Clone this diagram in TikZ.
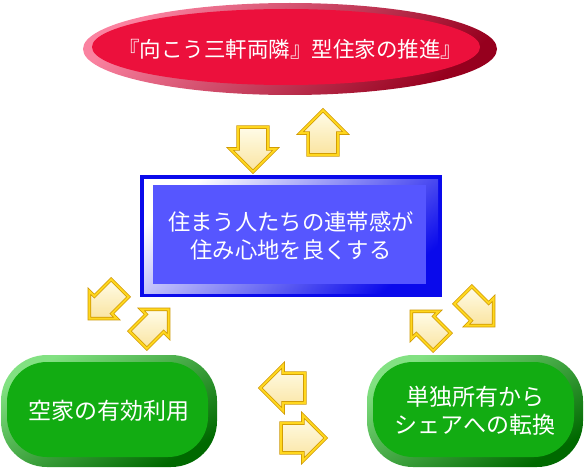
\documentclass[tikz,border=0pt]{standalone}
\usepackage{fontspec}
\newfontfamily\jpfont{Noto Sans CJK JP}
\usetikzlibrary{shapes.geometric, shapes.arrows, positioning}

\definecolor{rimpink}{RGB}{250,130,160}
\definecolor{rimdark}{RGB}{150,0,30}
\definecolor{crimson}{RGB}{236,16,60}
\definecolor{boxblue}{RGB}{10,10,235}
\definecolor{boxinner}{RGB}{86,86,255}
\definecolor{pillgreen}{RGB}{18,172,18}
\definecolor{pilllight}{RGB}{130,225,130}
\definecolor{pilldark}{RGB}{0,105,0}
\definecolor{goldedge}{RGB}{205,150,0}
\definecolor{goldline}{RGB}{255,215,30}
\definecolor{creamhi}{RGB}{255,252,232}
\definecolor{creamlo}{RGB}{250,228,160}

\begin{document}
\begin{tikzpicture}[
    x=1pt, y=-1pt,
    goal/.style={
        ellipse,
        minimum width=414pt,
        minimum height=92pt,
        inner xsep=-40pt,
        inner ysep=0pt,
        top color=rimpink,
        bottom color=rimdark,
        shading angle=40,
        text=white,
        font=\jpfont\fontsize{21.5pt}{24pt}\selectfont,
        path picture={
            \fill[crimson] ([xshift=-4pt,yshift=2pt]path picture bounding box.center)
                ellipse [x radius=194, y radius=38];
        }
    },
    hub/.style={
        rectangle,
        minimum width=302pt,
        minimum height=122pt,
        inner sep=0pt,
        fill=boxblue,
        align=center,
        text=white,
        font=\jpfont\fontsize{22.3pt}{28pt}\selectfont,
        path picture={
            \shade[top color=white, bottom color=boxblue, shading angle=40]
                ([shift={(4,4)}]path picture bounding box.north west)
                rectangle ([shift={(-4,-4)}]path picture bounding box.south east);
            \fill[boxinner]
                ([shift={(13,10)}]path picture bounding box.north west)
                rectangle ([shift={(-16,-13)}]path picture bounding box.south east);
        }
    },
    pill/.style={
        rectangle,
        rounded corners=46pt,
        minimum width=216pt,
        minimum height=112pt,
        inner sep=0pt,
        top color=pilllight,
        bottom color=pilldark,
        shading angle=30,
        align=center,
        text=white,
        font=\jpfont\fontsize{23pt}{28pt}\selectfont,
        path picture={
            \fill[pillgreen, rounded corners=40pt]
                ([shift={(6,7)}]path picture bounding box.north west)
                rectangle ([shift={(-9,-10)}]path picture bounding box.south east);
        }
    },
    flow/.style={
        single arrow,
        minimum height=44pt,
        inner sep=14.5pt,
        single arrow head extend=8pt,
        draw=goldedge,
        double=goldline,
        double distance=2pt,
        line width=0.7pt,
        top color=creamhi,
        bottom color=creamlo
    },
    slant/.style={
        flow,
        minimum height=43pt,
        inner sep=12pt,
        single arrow head extend=7pt
    }
]
\useasboundingbox (0,0) rectangle (585,468);

% Goal
\node[goal] (goal) at (290,49) {『向こう三軒両隣』型住家の推進』};

% Centre box
\node[hub] (hub) at (291,236) {住まう人たちの連帯感が\\住み心地を良くする};

% Bottom pills
\node[pill] (vacant) at (109,411) {空家の有効利用};
\node[pill] (share) at (475,411) {単独所有から\\シェアへの転換};

% Arrows between goal and centre
\node[flow, rotate=-90] (down) at (253,142) {};
\node[flow, rotate=90] (up) at (323,140) {};

% Arrows left
\node[slant, rotate=-135] (toleft) at (109,299) {};
\node[slant, rotate=45] (fromleft) at (149,329) {};

% Arrows right
\node[slant, rotate=-45] (toright) at (474,306) {};
\node[slant, rotate=135] (fromright) at (431,331) {};

% Arrows between pills
\node[flow, rotate=180] (tovacant) at (290,388) {};
\node[flow] (toshare) at (296,438) {};

\end{tikzpicture}
\end{document}
